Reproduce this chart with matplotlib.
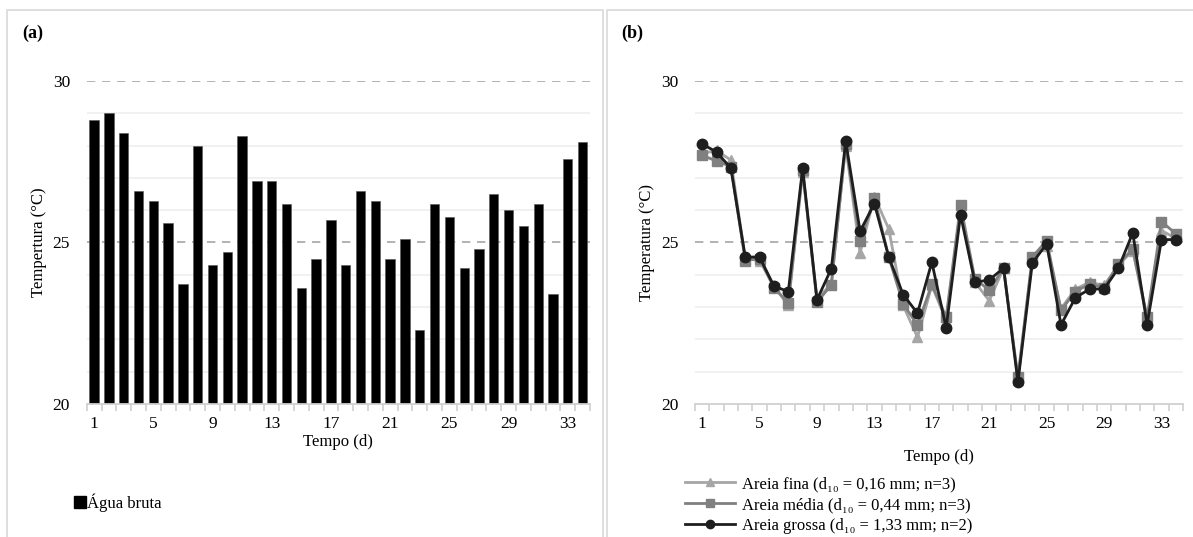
import matplotlib
matplotlib.use("Agg")
import matplotlib.pyplot as plt
from matplotlib.patches import Rectangle
from matplotlib.lines import Line2D
import numpy as np

plt.rcParams['font.family'] = ['Liberation Serif', 'DejaVu Serif']

days = list(range(1, 35))
agua_bruta = [28.8, 29.0, 28.4, 26.6, 26.3, 25.6, 23.7, 28.0, 24.3, 24.7,
              28.3, 26.9, 26.9, 26.2, 23.6, 24.5, 25.7, 24.3, 26.6, 26.3,
              24.5, 25.1, 22.3, 26.2, 25.8, 24.2, 24.8, 26.5, 26.0, 25.5,
              26.2, 23.4, 27.6, 28.1]
areia_fina = [27.75, 27.85, 27.55, 24.5, 24.44, 23.65, 23.05, 27.18, 23.25, 23.72,
              28.0, 24.68, 26.42, 25.42, 23.05, 22.07, 23.67, 22.58, 26.0, 23.77,
              23.2, 24.2, 20.75, 24.5, 24.9, 22.95, 23.56, 23.77, 23.67, 24.3,
              24.75, 22.63, 25.37, 25.13]
areia_media = [27.7, 27.52, 27.35, 24.44, 24.5, 23.6, 23.13, 27.23, 23.15, 23.69,
               28.05, 25.04, 26.38, 24.55, 23.1, 22.45, 23.7, 22.69, 26.17, 23.87,
               23.53, 24.2, 20.83, 24.55, 25.06, 22.9, 23.48, 23.72, 23.6, 24.34,
               24.8, 22.69, 25.65, 25.27]
areia_grossa = [28.05, 27.8, 27.3, 24.55, 24.55, 23.65, 23.48, 27.3, 23.23, 24.19,
                28.14, 25.35, 26.2, 24.55, 23.39, 22.81, 24.39, 22.36, 25.86, 23.77,
                23.84, 24.21, 20.68, 24.36, 24.96, 22.45, 23.29, 23.56, 23.56, 24.2,
                25.3, 22.46, 25.09, 25.09]
tick_labels = [1, 5, 9, 13, 17, 21, 25, 29, 33]
yticks = [20, 25, 30]
series_labels = ["Areia fina (d\u2081\u2080 = 0,16 mm; n=3)",
                 "Areia média (d\u2081\u2080 = 0,44 mm; n=3)",
                 "Areia grossa (d\u2081\u2080 = 1,33 mm; n=2)"]

W, H = 1193, 537
fig = plt.figure(figsize=(W / 100, H / 100), dpi=100)

# panel borders
for x0, x1 in [(7, 603), (607, 1200)]:
    fig.patches.append(Rectangle((x0 / W, -0.1), (x1 - x0) / W, (H - 10) / H + 0.1,
                                 transform=fig.transFigure, fill=False,
                                 edgecolor='#d9d9d9', lw=1.2))

grid_c = '#efefef'
axis_c = '#d0d0d0'
dash_c = '#a6a6a6'


def style_axes(ax):
    ax.set_xlim(0.5, 34.5)
    ax.set_ylim(20, 30)
    for s in ['top', 'right', 'left']:
        ax.spines[s].set_visible(False)
    ax.spines['bottom'].set_color(axis_c)
    ax.spines['bottom'].set_linewidth(1.3)
    for v in range(21, 30):
        if v == 25:
            continue
        ax.axhline(v, color=grid_c, lw=1.2, zorder=0)
    for v in (25, 30):
        ax.axhline(v, color=dash_c, lw=1.2, ls=(0, (5, 4)), zorder=0)
    ax.set_yticks(yticks)
    ax.set_yticklabels([str(v) for v in yticks])
    ax.tick_params(axis='y', length=0, pad=12, labelsize=12.5)
    ax.set_xticks(tick_labels)
    ax.set_xticklabels([str(v) for v in tick_labels])
    ax.set_xticks(np.arange(0.5, 35, 1.0), minor=True)
    ax.tick_params(axis='x', which='major', length=0, pad=9, labelsize=12.5)
    ax.tick_params(axis='x', which='minor', length=5, color=axis_c, width=1.2)


# panel (a)
ax1 = fig.add_axes([86.7 / W, 1 - 404 / H, (590 - 86.7) / W, (404 - 81) / H])
style_axes(ax1)
ax1.bar(days, agua_bruta, width=0.63, bottom=0, color='black',
        edgecolor='#555555', lw=0.4, zorder=2)
ax1.set_ylim(20, 30)
ax1.set_ylabel("Tempertura (°C)", fontsize=12, labelpad=4)
ax1.set_xlabel("Tempo (d)", fontsize=12, labelpad=1)
ax1.legend(handles=[Line2D([], [], marker='s', color='black', ls='none', markersize=8)],
           labels=["Água bruta"], loc='center left', bbox_to_anchor=(75 / W, 1 - 503 / H),
           bbox_transform=fig.transFigure, frameon=False, fontsize=12,
           handlelength=0.6, handletextpad=0.1, borderaxespad=0, borderpad=0)
fig.text(22 / W, 1 - 33 / H, "(a)", fontsize=13, fontweight='bold', va='center', ha='left')

# panel (b)
ax2 = fig.add_axes([695 / W, 1 - 404 / H, (1183 - 695) / W, (404 - 81) / H])
style_axes(ax2)
cols = ['#a6a6a6', '#808080', '#1e1e1e']
markers = ['^', 's', 'o']
msz = [7, 7, 7.5]
for vals, c, m, ms in zip([areia_fina, areia_media, areia_grossa], cols, markers, msz):
    ax2.plot(days, vals, color=c, marker=m, markersize=ms, lw=2.0, zorder=3)
ax2.set_ylabel("Temperatura (°C)", fontsize=12, labelpad=4)
ax2.set_xlabel("Tempo (d)", fontsize=12, labelpad=12)
leg_handles = [Line2D([], [], color=c, marker=m, markersize=6, lw=2.0)
               for c, m in zip(cols, markers)]
ax2.legend(handles=leg_handles, labels=series_labels, loc='upper left',
           bbox_to_anchor=(685 / W, 1 - 476 / H), bbox_transform=fig.transFigure,
           frameon=False, fontsize=12, handlelength=3.0, handletextpad=0.45,
           labelspacing=0.3, borderaxespad=0, borderpad=0)
fig.text(621 / W, 1 - 33 / H, "(b)", fontsize=13, fontweight='bold', va='center', ha='left')

fig.savefig("out.png", dpi=100)
